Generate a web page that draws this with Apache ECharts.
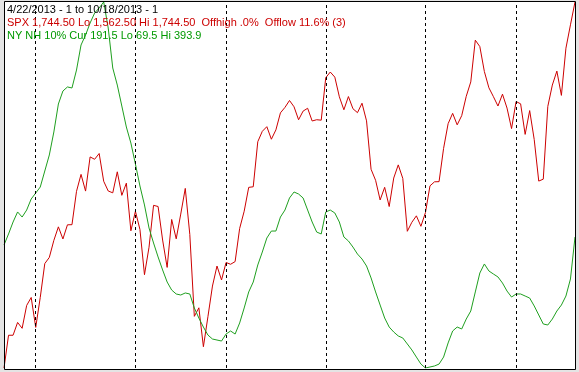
<!DOCTYPE html>
<html>
<head>
<meta charset="utf-8">
<script src="https://cdn.jsdelivr.net/npm/echarts@6/dist/echarts.min.js"></script>
<style>
html,body{margin:0;padding:0;background:#e4e4e4;}
#c{width:579px;height:372px;}
</style>
</head>
<body>
<div id="c"></div>
<script>
// trading-day categories, 4/22/2013 .. 10/18/2013
const startDate = '2013-04-22';
const endDate = '2013-10-18';
const holidays = ['2013-05-27', '2013-07-04', '2013-09-02'];
const monthStarts = ['5/1/2013', '6/3/2013', '7/1/2013', '8/1/2013', '9/3/2013', '10/1/2013'];

const titleText = '4/22/2013 - 1 to 10/18/2013 - 1';
const spxText = 'SPX 1,744.50 Lo 1,562.50 Hi 1,744.50  Offhigh .0%  Offlow 11.6% (3)';
const nhText = 'NY NH 10% Cur 191.5 Lo 69.5 Hi 393.9';

const spxLo = 1562.5, spxHi = 1744.5;
const nhLo = 69.5, nhHi = 393.9;

const spxApr = [1562.50, 1578.78, 1578.79, 1585.16, 1582.24, 1593.61, 1597.57];
const spxMay = [1582.70, 1597.59, 1614.42, 1617.50, 1625.96, 1632.69, 1626.67, 1633.70, 1633.77, 1650.34, 1658.78, 1650.47, 1667.47, 1666.29, 1669.16, 1655.35, 1650.51, 1649.60, 1660.06, 1648.36, 1654.41, 1630.74];
const spxJun = [1640.42, 1631.38, 1608.90, 1622.56, 1643.38, 1642.81, 1626.13, 1612.52, 1636.36, 1626.73, 1639.04, 1651.81, 1628.93, 1588.19, 1592.43, 1573.09, 1588.03, 1603.26, 1613.20, 1606.28];
const spxJul = [1614.96, 1614.08, 1615.41, 1631.89, 1640.46, 1652.32, 1652.62, 1675.02, 1680.19, 1682.50, 1676.26, 1680.91, 1689.37, 1692.09, 1695.53, 1692.39, 1685.94, 1690.25, 1691.65, 1685.33, 1685.96, 1685.73];
const spxAug = [1706.87, 1709.67, 1707.14, 1697.37, 1690.91, 1697.48, 1691.42, 1689.47, 1694.16, 1685.39, 1661.32, 1655.83, 1646.06, 1652.35, 1642.80, 1656.96, 1663.50, 1656.78, 1630.48, 1634.96, 1638.17, 1632.97];
const spxSep = [1639.77, 1653.08, 1655.08, 1655.17, 1671.71, 1683.99, 1689.13, 1683.42, 1687.99, 1697.60, 1704.76, 1725.52, 1722.34, 1709.91, 1701.84, 1697.42, 1692.77, 1698.67, 1691.75, 1681.55];
const spxOct = [1695.00, 1693.87, 1678.66, 1690.50, 1676.12, 1655.45, 1656.40, 1692.56, 1703.20, 1710.14, 1698.06, 1721.54, 1733.15, 1744.50];

const nhApr = [178.5, 188.3, 198.9, 207.8, 203.3, 209.5, 219.3];
const nhMay = [224.6, 229.9, 244.1, 258.3, 278.7, 303.5, 315.0, 318.6, 317.7, 333.6, 355.8, 364.6, 375.3, 384.1, 388.6, 393.9, 370.8, 335.4, 320.3, 301.7, 283.1, 268.9];
const nhJun = [250.3, 230.8, 214.0, 193.6, 180.3, 167.9, 156.4, 145.7, 138.6, 135.1, 134.2, 136.0, 135.1, 122.7, 113.8, 105.8, 98.7, 95.2, 94.3, 93.4];
const nhJul = [99.6, 102.3, 99.6, 109.4, 122.7, 136.9, 145.7, 160.8, 172.3, 184.7, 190.9, 190.9, 203.3, 209.5, 220.2, 225.5, 223.7, 220.2, 209.5, 198.9, 190.0, 188.3];
const nhAug = [207.8, 209.5, 206.9, 198.9, 185.6, 182.1, 176.7, 170.5, 166.1, 159.9, 149.3, 136.9, 125.3, 113.8, 105.8, 101.4, 97.9, 96.1, 90.8, 85.5, 79.2, 73.0];
const nhSep = [69.5, 70.4, 71.3, 73.0, 79.2, 91.7, 102.3, 105.8, 104.1, 112.9, 120.0, 136.9, 153.7, 161.7, 155.5, 152.8, 150.2, 144.8, 137.7, 132.4];
const nhOct = [135.1, 135.1, 133.3, 131.5, 124.5, 116.5, 108.5, 107.6, 112.9, 120.0, 125.3, 133.3, 148.4, 185.6];

const spx = [].concat(spxApr, spxMay, spxJun, spxJul, spxAug, spxSep, spxOct);
const nh = [].concat(nhApr, nhMay, nhJun, nhJul, nhAug, nhSep, nhOct);

function tradingDays() {
  const out = [];
  const d = new Date(startDate + 'T12:00:00Z');
  const e = new Date(endDate + 'T12:00:00Z');
  while (d <= e) {
    const wd = d.getUTCDay();
    const iso = d.toISOString().slice(0, 10);
    if (wd !== 0 && wd !== 6 && holidays.indexOf(iso) < 0) {
      out.push((d.getUTCMonth() + 1) + '/' + d.getUTCDate() + '/' + d.getUTCFullYear());
    }
    d.setUTCDate(d.getUTCDate() + 1);
  }
  return out;
}
const categories = tradingDays();

const chart = echarts.init(document.getElementById('c'), null, {renderer: 'canvas'});
const font = '11px "Liberation Sans", Arial, sans-serif';
chart.setOption({
  animation: false,
  backgroundColor: 'transparent',
  grid: {left: 4, right: 4, top: 2, bottom: 4, containLabel: false},
  xAxis: {type: 'category', data: categories, boundaryGap: false, show: false},
  yAxis: [
    {type: 'value', min: spxLo, max: spxHi, show: false},
    {type: 'value', min: nhLo, max: nhHi, show: false}
  ],
  graphic: [
    {type: 'rect', z: -10, silent: true, shape: {x: 4.5, y: 1.5, width: 571, height: 368}, style: {fill: '#ffffff', stroke: null}},
    {type: 'rect', z: 100, silent: true, shape: {x: 4.5, y: 1.5, width: 571, height: 368}, style: {fill: null, stroke: '#000000', lineWidth: 1}},
    {type: 'text', z: 100, silent: true, x: 7, y: 4, style: {text: titleText, fill: '#000000', font: font}},
    {type: 'text', z: 100, silent: true, x: 7, y: 17, style: {text: spxText, fill: '#cc0000', font: font}},
    {type: 'text', z: 100, silent: true, x: 7, y: 30, style: {text: nhText, fill: '#009900', font: font}}
  ],
  series: [
    {
      name: 'SPX', type: 'line', yAxisIndex: 0, data: spx, showSymbol: false, silent: true,
      lineStyle: {color: '#cc0000', width: 1}, z: 3,
      markLine: {
        silent: true, symbol: 'none', label: {show: false},
        lineStyle: {color: '#000000', type: [3, 3], width: 1},
        data: monthStarts.map(m => ({xAxis: m}))
      }
    },
    {
      name: 'NY NH 10%', type: 'line', yAxisIndex: 1, data: nh, showSymbol: false, silent: true,
      lineStyle: {color: '#1f9f1f', width: 1}, z: 4
    }
  ]
});
</script>
</body>
</html>
